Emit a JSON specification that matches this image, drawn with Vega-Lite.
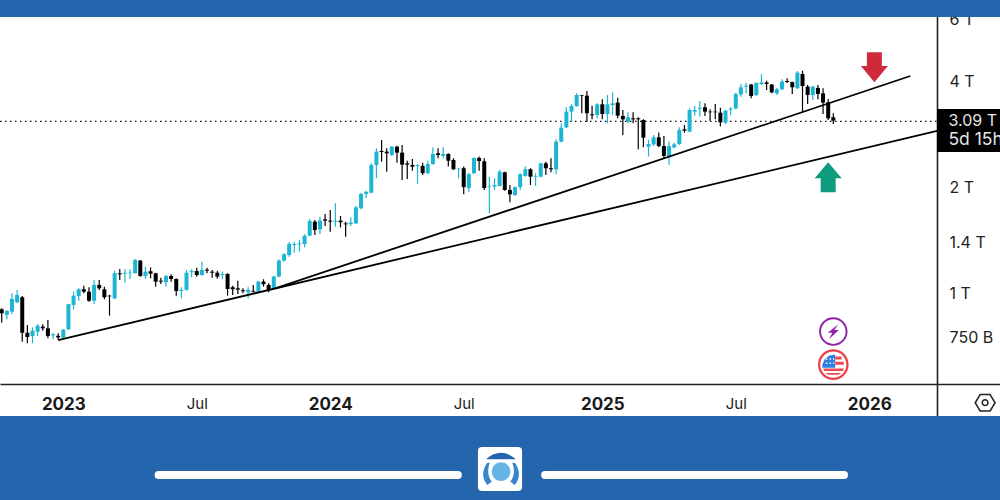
{
  "$schema": "https://vega.github.io/schema/vega-lite/v6.json",
  "width": 1000,
  "height": 500,
  "padding": 0,
  "autosize": {"type": "none"},
  "background": "white",
  "config": {"view": {"stroke": null}, "font": "Inter"},
  "resolve": {"axis": {"x": "independent", "y": "independent"}},
  "datasets": {
    "candles": [
      {"date":"2022-10-10","open":0.905,"high":0.911,"low":0.829,"close":0.882},
      {"date":"2022-10-17","open":0.872,"high":0.901,"low":0.848,"close":0.895},
      {"date":"2022-10-24","open":0.891,"high":1.005,"low":0.878,"close":0.968},
      {"date":"2022-10-31","open":0.948,"high":1.027,"low":0.942,"close":0.994},
      {"date":"2022-11-07","open":0.979,"high":0.987,"low":0.732,"close":0.776},
      {"date":"2022-11-14","open":0.776,"high":0.817,"low":0.725,"close":0.755},
      {"date":"2022-11-21","open":0.760,"high":0.804,"low":0.725,"close":0.786},
      {"date":"2022-11-28","open":0.781,"high":0.821,"low":0.760,"close":0.813},
      {"date":"2022-12-05","open":0.808,"high":0.821,"low":0.786,"close":0.799},
      {"date":"2022-12-12","open":0.799,"high":0.844,"low":0.749,"close":0.760},
      {"date":"2022-12-19","open":0.763,"high":0.776,"low":0.744,"close":0.768},
      {"date":"2022-12-26","open":0.761,"high":0.773,"low":0.740,"close":0.753},
      {"date":"2023-01-02","open":0.753,"high":0.796,"low":0.749,"close":0.792},
      {"date":"2023-01-09","open":0.794,"high":0.937,"low":0.790,"close":0.935},
      {"date":"2023-01-16","open":0.931,"high":1.015,"low":0.905,"close":0.989},
      {"date":"2023-01-23","open":0.987,"high":1.038,"low":0.957,"close":1.031},
      {"date":"2023-01-30","open":1.031,"high":1.056,"low":1.005,"close":1.015},
      {"date":"2023-02-06","open":1.015,"high":1.045,"low":0.951,"close":0.957},
      {"date":"2023-02-13","open":0.957,"high":1.096,"low":0.937,"close":1.061},
      {"date":"2023-02-20","open":1.061,"high":1.096,"low":1.027,"close":1.038},
      {"date":"2023-02-27","open":1.031,"high":1.049,"low":0.966,"close":0.979},
      {"date":"2023-03-06","open":0.989,"high":0.994,"low":0.868,"close":0.985},
      {"date":"2023-03-13","open":0.972,"high":1.164,"low":0.966,"close":1.145},
      {"date":"2023-03-20","open":1.145,"high":1.178,"low":1.096,"close":1.137},
      {"date":"2023-03-27","open":1.142,"high":1.175,"low":1.077,"close":1.149},
      {"date":"2023-04-03","open":1.145,"high":1.175,"low":1.103,"close":1.149},
      {"date":"2023-04-10","open":1.145,"high":1.257,"low":1.145,"close":1.249},
      {"date":"2023-04-17","open":1.244,"high":1.249,"low":1.120,"close":1.125},
      {"date":"2023-04-24","open":1.125,"high":1.195,"low":1.103,"close":1.157},
      {"date":"2023-05-01","open":1.160,"high":1.190,"low":1.108,"close":1.142},
      {"date":"2023-05-08","open":1.145,"high":1.149,"low":1.049,"close":1.084},
      {"date":"2023-05-15","open":1.091,"high":1.112,"low":1.068,"close":1.084},
      {"date":"2023-05-22","open":1.080,"high":1.132,"low":1.049,"close":1.125},
      {"date":"2023-05-29","open":1.125,"high":1.137,"low":1.084,"close":1.103},
      {"date":"2023-06-05","open":1.103,"high":1.108,"low":0.989,"close":1.020},
      {"date":"2023-06-12","open":1.020,"high":1.045,"low":0.972,"close":1.027},
      {"date":"2023-06-19","open":1.027,"high":1.170,"low":1.022,"close":1.149},
      {"date":"2023-06-26","open":1.153,"high":1.175,"low":1.115,"close":1.162},
      {"date":"2023-07-03","open":1.162,"high":1.187,"low":1.120,"close":1.132},
      {"date":"2023-07-10","open":1.132,"high":1.235,"low":1.127,"close":1.170},
      {"date":"2023-07-17","open":1.172,"high":1.187,"low":1.145,"close":1.164},
      {"date":"2023-07-24","open":1.157,"high":1.170,"low":1.112,"close":1.149},
      {"date":"2023-07-31","open":1.149,"high":1.164,"low":1.105,"close":1.120},
      {"date":"2023-08-07","open":1.132,"high":1.157,"low":1.101,"close":1.140},
      {"date":"2023-08-14","open":1.140,"high":1.145,"low":0.989,"close":1.033},
      {"date":"2023-08-21","open":1.045,"high":1.056,"low":0.994,"close":1.031},
      {"date":"2023-08-28","open":1.038,"high":1.091,"low":1.000,"close":1.029},
      {"date":"2023-09-04","open":1.025,"high":1.038,"low":1.005,"close":1.018},
      {"date":"2023-09-11","open":1.011,"high":1.045,"low":0.972,"close":1.027},
      {"date":"2023-09-18","open":1.020,"high":1.061,"low":1.011,"close":1.015},
      {"date":"2023-09-25","open":1.015,"high":1.091,"low":1.011,"close":1.084},
      {"date":"2023-10-02","open":1.084,"high":1.101,"low":1.049,"close":1.066},
      {"date":"2023-10-09","open":1.061,"high":1.072,"low":1.011,"close":1.027},
      {"date":"2023-10-16","open":1.038,"high":1.127,"low":1.031,"close":1.120},
      {"date":"2023-10-23","open":1.120,"high":1.254,"low":1.115,"close":1.244},
      {"date":"2023-10-30","open":1.244,"high":1.304,"low":1.235,"close":1.296},
      {"date":"2023-11-06","open":1.290,"high":1.402,"low":1.276,"close":1.389},
      {"date":"2023-11-13","open":1.377,"high":1.408,"low":1.310,"close":1.386},
      {"date":"2023-11-20","open":1.383,"high":1.423,"low":1.319,"close":1.392},
      {"date":"2023-11-27","open":1.386,"high":1.477,"low":1.356,"close":1.463},
      {"date":"2023-12-04","open":1.463,"high":1.633,"low":1.460,"close":1.612},
      {"date":"2023-12-11","open":1.604,"high":1.622,"low":1.470,"close":1.519},
      {"date":"2023-12-18","open":1.526,"high":1.658,"low":1.480,"close":1.615},
      {"date":"2023-12-25","open":1.629,"high":1.687,"low":1.560,"close":1.615},
      {"date":"2024-01-01","open":1.615,"high":1.731,"low":1.502,"close":1.604},
      {"date":"2024-01-08","open":1.604,"high":1.809,"low":1.552,"close":1.615},
      {"date":"2024-01-15","open":1.615,"high":1.665,"low":1.545,"close":1.598},
      {"date":"2024-01-22","open":1.587,"high":1.604,"low":1.453,"close":1.577},
      {"date":"2024-01-29","open":1.580,"high":1.650,"low":1.560,"close":1.594},
      {"date":"2024-02-05","open":1.587,"high":1.777,"low":1.580,"close":1.762},
      {"date":"2024-02-12","open":1.751,"high":1.939,"low":1.739,"close":1.922},
      {"date":"2024-02-19","open":1.922,"high":1.965,"low":1.869,"close":1.950},
      {"date":"2024-02-26","open":1.939,"high":2.349,"low":1.931,"close":2.324},
      {"date":"2024-03-04","open":2.324,"high":2.591,"low":2.130,"close":2.535},
      {"date":"2024-03-11","open":2.547,"high":2.736,"low":2.375,"close":2.530},
      {"date":"2024-03-18","open":2.535,"high":2.591,"low":2.224,"close":2.508},
      {"date":"2024-03-25","open":2.481,"high":2.630,"low":2.465,"close":2.619},
      {"date":"2024-04-01","open":2.619,"high":2.636,"low":2.359,"close":2.519},
      {"date":"2024-04-08","open":2.519,"high":2.648,"low":2.107,"close":2.329},
      {"date":"2024-04-15","open":2.349,"high":2.390,"low":2.120,"close":2.329},
      {"date":"2024-04-22","open":2.324,"high":2.417,"low":2.239,"close":2.299},
      {"date":"2024-04-29","open":2.309,"high":2.334,"low":2.052,"close":2.324},
      {"date":"2024-05-06","open":2.309,"high":2.359,"low":2.177,"close":2.202},
      {"date":"2024-05-13","open":2.202,"high":2.390,"low":2.187,"close":2.339},
      {"date":"2024-05-20","open":2.339,"high":2.608,"low":2.329,"close":2.497},
      {"date":"2024-05-27","open":2.508,"high":2.591,"low":2.428,"close":2.481},
      {"date":"2024-06-03","open":2.465,"high":2.608,"low":2.428,"close":2.497},
      {"date":"2024-06-10","open":2.497,"high":2.508,"low":2.299,"close":2.390},
      {"date":"2024-06-17","open":2.401,"high":2.428,"low":2.249,"close":2.260},
      {"date":"2024-06-24","open":2.260,"high":2.275,"low":2.130,"close":2.269},
      {"date":"2024-07-01","open":2.275,"high":2.299,"low":1.918,"close":2.011},
      {"date":"2024-07-08","open":1.998,"high":2.209,"low":1.950,"close":2.187},
      {"date":"2024-07-15","open":2.202,"high":2.445,"low":2.187,"close":2.433},
      {"date":"2024-07-22","open":2.433,"high":2.455,"low":2.239,"close":2.385},
      {"date":"2024-07-29","open":2.380,"high":2.428,"low":1.973,"close":1.998},
      {"date":"2024-08-05","open":2.011,"high":2.153,"low":1.695,"close":2.019},
      {"date":"2024-08-12","open":2.019,"high":2.130,"low":1.973,"close":2.039},
      {"date":"2024-08-19","open":2.026,"high":2.249,"low":2.019,"close":2.224},
      {"date":"2024-08-26","open":2.216,"high":2.224,"low":1.965,"close":1.973},
      {"date":"2024-09-02","open":1.973,"high":2.039,"low":1.821,"close":1.918},
      {"date":"2024-09-09","open":1.910,"high":2.019,"low":1.897,"close":2.011},
      {"date":"2024-09-16","open":2.011,"high":2.202,"low":1.973,"close":2.187},
      {"date":"2024-09-23","open":2.162,"high":2.299,"low":2.153,"close":2.260},
      {"date":"2024-09-30","open":2.260,"high":2.275,"low":2.039,"close":2.153},
      {"date":"2024-10-07","open":2.153,"high":2.202,"low":2.026,"close":2.162},
      {"date":"2024-10-14","open":2.153,"high":2.359,"low":2.144,"close":2.349},
      {"date":"2024-10-21","open":2.349,"high":2.375,"low":2.177,"close":2.275},
      {"date":"2024-10-28","open":2.275,"high":2.428,"low":2.216,"close":2.260},
      {"date":"2024-11-04","open":2.260,"high":2.749,"low":2.187,"close":2.706},
      {"date":"2024-11-11","open":2.706,"high":3.051,"low":2.695,"close":2.965},
      {"date":"2024-11-18","open":2.973,"high":3.388,"low":2.954,"close":3.293},
      {"date":"2024-11-25","open":3.293,"high":3.455,"low":3.084,"close":3.416},
      {"date":"2024-12-02","open":3.416,"high":3.712,"low":3.401,"close":3.671},
      {"date":"2024-12-09","open":3.664,"high":3.671,"low":3.258,"close":3.648},
      {"date":"2024-12-16","open":3.655,"high":3.769,"low":3.084,"close":3.258},
      {"date":"2024-12-23","open":3.237,"high":3.423,"low":3.131,"close":3.216},
      {"date":"2024-12-30","open":3.222,"high":3.478,"low":3.153,"close":3.455},
      {"date":"2025-01-06","open":3.455,"high":3.570,"low":3.131,"close":3.243},
      {"date":"2025-01-13","open":3.243,"high":3.671,"low":3.051,"close":3.455},
      {"date":"2025-01-20","open":3.439,"high":3.736,"low":3.222,"close":3.478},
      {"date":"2025-01-27","open":3.493,"high":3.607,"low":3.153,"close":3.207},
      {"date":"2025-02-03","open":3.201,"high":3.329,"low":2.827,"close":3.131},
      {"date":"2025-02-10","open":3.084,"high":3.280,"low":3.051,"close":3.175},
      {"date":"2025-02-17","open":3.153,"high":3.280,"low":3.051,"close":3.131},
      {"date":"2025-02-24","open":3.153,"high":3.175,"low":2.574,"close":3.131},
      {"date":"2025-03-03","open":3.118,"high":3.131,"low":2.608,"close":2.778},
      {"date":"2025-03-10","open":2.619,"high":2.736,"low":2.455,"close":2.665},
      {"date":"2025-03-17","open":2.659,"high":2.827,"low":2.630,"close":2.784},
      {"date":"2025-03-24","open":2.784,"high":2.875,"low":2.608,"close":2.630},
      {"date":"2025-03-31","open":2.630,"high":2.810,"low":2.428,"close":2.465},
      {"date":"2025-04-07","open":2.455,"high":2.706,"low":2.324,"close":2.630},
      {"date":"2025-04-14","open":2.608,"high":2.689,"low":2.591,"close":2.659},
      {"date":"2025-04-21","open":2.665,"high":2.973,"low":2.648,"close":2.921},
      {"date":"2025-04-28","open":2.934,"high":3.018,"low":2.869,"close":2.908},
      {"date":"2025-05-05","open":2.889,"high":3.366,"low":2.880,"close":3.329},
      {"date":"2025-05-12","open":3.293,"high":3.416,"low":3.207,"close":3.329},
      {"date":"2025-05-19","open":3.357,"high":3.530,"low":3.186,"close":3.379},
      {"date":"2025-05-26","open":3.388,"high":3.478,"low":3.201,"close":3.293},
      {"date":"2025-06-02","open":3.293,"high":3.344,"low":3.105,"close":3.280},
      {"date":"2025-06-09","open":3.293,"high":3.462,"low":3.131,"close":3.280},
      {"date":"2025-06-16","open":3.271,"high":3.379,"low":2.986,"close":3.071},
      {"date":"2025-06-23","open":3.064,"high":3.329,"low":3.038,"close":3.314},
      {"date":"2025-06-30","open":3.335,"high":3.388,"low":3.222,"close":3.357},
      {"date":"2025-07-07","open":3.366,"high":3.725,"low":3.344,"close":3.696},
      {"date":"2025-07-14","open":3.688,"high":3.944,"low":3.632,"close":3.861},
      {"date":"2025-07-21","open":3.878,"high":3.971,"low":3.712,"close":3.903},
      {"date":"2025-07-28","open":3.932,"high":3.944,"low":3.593,"close":3.648},
      {"date":"2025-08-04","open":3.671,"high":3.985,"low":3.648,"close":3.971},
      {"date":"2025-08-11","open":3.944,"high":4.203,"low":3.919,"close":3.985},
      {"date":"2025-08-18","open":3.985,"high":4.030,"low":3.794,"close":3.944},
      {"date":"2025-08-25","open":3.932,"high":3.944,"low":3.712,"close":3.736},
      {"date":"2025-09-01","open":3.712,"high":3.851,"low":3.671,"close":3.810},
      {"date":"2025-09-08","open":3.810,"high":4.068,"low":3.794,"close":4.007},
      {"date":"2025-09-15","open":4.024,"high":4.095,"low":3.971,"close":3.998},
      {"date":"2025-09-22","open":3.994,"high":4.007,"low":3.696,"close":3.861},
      {"date":"2025-09-29","open":3.838,"high":4.295,"low":3.820,"close":4.250},
      {"date":"2025-10-06","open":4.212,"high":4.303,"low":3.293,"close":3.893},
      {"date":"2025-10-13","open":3.878,"high":3.919,"low":3.462,"close":3.671},
      {"date":"2025-10-20","open":3.671,"high":3.893,"low":3.554,"close":3.878},
      {"date":"2025-10-27","open":3.846,"high":3.919,"low":3.570,"close":3.696},
      {"date":"2025-11-03","open":3.712,"high":3.836,"low":3.243,"close":3.493},
      {"date":"2025-11-10","open":3.501,"high":3.578,"low":3.118,"close":3.153},
      {"date":"2025-11-17","open":3.175,"high":3.258,"low":3.038,"close":3.105}
    ],
    "trendlines": [
      {"line":"lower","date":"2022-12-26","price":0.740},
      {"line":"lower","date":"2026-04-07T12:00:00Z","price":2.902},
      {"line":"upper","date":"2023-10-18","price":1.038},
      {"line":"upper","date":"2026-03-02","price":4.157}
    ],
    "lastprice": [
      {"date":"2022-10-07T16:20:00Z","date2":"2026-04-07T12:00:00Z","price":3.09}
    ],
    "bands": [
      {"date":"2022-10-07T16:20:00Z","date2":"2026-07-02T07:00:00Z","price":6.113,"price2":6.832},
      {"date":"2022-10-07T16:20:00Z","date2":"2026-07-02T07:00:00Z","price":0.2601,"price2":0.4505}
    ],
    "pricetag": [
      {"date":"2026-04-07T12:00:00Z","date2":"2026-07-02T07:00:00Z","price":2.530,"price2":3.351}
    ],
    "tagtext": [
      {"date":"2026-04-23","price":3.09,"label":"3.09 T"},
      {"date":"2026-04-23","price":2.736,"label":"5d 15h"}
    ],
    "pills": [
      {"date":"2023-05-12","date2":"2024-06-23","price":0.3064},
      {"date":"2024-10-20","date2":"2025-12-01T14:00:00Z","price":0.3064}
    ],
    "glyphs": [
      {"date":"2026-01-12","price":4.400,"part":"arrow_down"},
      {"date":"2025-11-10","price":2.144,"part":"arrow_up"},
      {"date":"2025-11-17","price":0.782,"part":"bolt_ring"},
      {"date":"2025-11-17","price":0.782,"part":"bolt"},
      {"date":"2025-11-17","price":0.630,"part":"flag_canton"},
      {"date":"2025-11-17","price":0.630,"part":"flag_dots"},
      {"date":"2025-11-17","price":0.630,"part":"flag_stripes"},
      {"date":"2025-11-17","price":0.630,"part":"flag_ring"},
      {"date":"2026-06-12","price":0.4914,"part":"hexagon"},
      {"date":"2024-08-19T12:00:00Z","price":0.3186,"part":"logo_tile"},
      {"date":"2024-08-19T12:00:00Z","price":0.3186,"part":"logo_cap"},
      {"date":"2024-08-19T12:00:00Z","price":0.3186,"part":"logo_sides"},
      {"date":"2024-08-19T12:00:00Z","price":0.3186,"part":"logo_dot"}
    ]
  },
  "data": {"name": "candles"},
  "encoding": {
    "x": {
      "field": "date",
      "type": "temporal",
      "scale": {
        "type": "utc",
        "nice": false,
        "padding": 0,
        "domain": [
          {"year":2022,"month":10,"date":7,"hours":16,"minutes":20,"utc":true},
          {"year":2026,"month":7,"date":2,"hours":7,"utc":true}
        ]
      },
      "axis": null
    },
    "y": {
      "field": "price",
      "type": "quantitative",
      "scale": {"type": "log", "nice": false, "zero": false, "domain": [0.2601, 6.832]},
      "axis": null
    }
  },
  "layer": [
    {
      "data": {"name": "lastprice"},
      "mark": {"type": "rule", "color": "#111111", "strokeWidth": 1.2, "strokeDash": [1.5, 3.5]},
      "encoding": {
        "x": {
          "field": "date",
          "type": "temporal",
          "title": null,
          "scale": {
            "type": "utc",
            "nice": false,
            "padding": 0,
            "domain": [
              {"year":2022,"month":10,"date":7,"hours":16,"minutes":20,"utc":true},
              {"year":2026,"month":7,"date":2,"hours":7,"utc":true}
            ]
          },
          "axis": {
            "orient": "bottom",
            "offset": -116,
            "title": null,
            "values": [
              {"year":2023,"month":1,"date":2,"utc":true},
              {"year":2023,"month":7,"date":3,"utc":true},
              {"year":2024,"month":1,"date":1,"utc":true},
              {"year":2024,"month":7,"date":1,"utc":true},
              {"year":2025,"month":1,"date":6,"utc":true},
              {"year":2025,"month":7,"date":7,"utc":true},
              {"year":2026,"month":1,"date":5,"utc":true}
            ],
            "labelExpr": "utcmonth(datum.value) == 0 ? utcFormat(datum.value, '%Y') : 'Jul'",
            "labelFontWeight": {"condition": {"test": "utcmonth(datum.value) == 0", "value": "bold"}, "value": "normal"},
            "labelFontSize": {"condition": {"test": "utcmonth(datum.value) == 0", "value": 17}, "value": 15},
            "labelColor": "#1a1a1a",
            "labelPadding": 12,
            "labelOverlap": false,
            "labelFlush": false,
            "labelBound": false,
            "ticks": false,
            "grid": false,
            "domainColor": "#222222",
            "domainWidth": 1.6
          }
        },
        "x2": {"field": "date2"},
        "y": {
          "field": "price",
          "type": "quantitative",
          "title": null,
          "scale": {"type": "log", "nice": false, "zero": false, "domain": [0.2601, 6.832]},
          "axis": {
            "orient": "right",
            "offset": -63,
            "title": null,
            "values": [0.75, 1, 1.4, 2, 4, 6],
            "labelExpr": "datum.value < 1 ? '750 B' : format(datum.value, '~g') + ' T'",
            "labelAlign": "left",
            "labelPadding": 12,
            "labelFontSize": 16,
            "labelColor": "#222222",
            "labelOverlap": false,
            "labelFlush": false,
            "labelBound": false,
            "ticks": false,
            "grid": false,
            "domainColor": "#222222",
            "domainWidth": 1.6
          }
        }
      }
    },
    {
      "mark": {"type": "rule", "strokeWidth": 1.2},
      "encoding": {
        "y": {
          "field": "low",
          "type": "quantitative",
          "scale": {"type": "log", "nice": false, "zero": false, "domain": [0.2601, 6.832]},
          "axis": null
        },
        "y2": {"field": "high"},
        "color": {"condition": {"test": "datum.close >= datum.open", "value": "#1cb5d4"}, "value": "#000000"}
      }
    },
    {
      "mark": {"type": "bar", "size": 4},
      "encoding": {
        "y": {
          "field": "open",
          "type": "quantitative",
          "scale": {"type": "log", "nice": false, "zero": false, "domain": [0.2601, 6.832]},
          "axis": null
        },
        "y2": {"field": "close"},
        "color": {"condition": {"test": "datum.close >= datum.open", "value": "#1cb5d4"}, "value": "#000000"}
      }
    },
    {
      "data": {"name": "trendlines"},
      "mark": {"type": "line", "color": "#000000", "strokeWidth": 1.8},
      "encoding": {"detail": {"field": "line", "type": "nominal"}}
    },
    {
      "data": {"name": "bands"},
      "mark": {"type": "rect", "color": "#2565ae"},
      "encoding": {"x2": {"field": "date2"}, "y2": {"field": "price2"}}
    },
    {
      "data": {"name": "pricetag"},
      "mark": {"type": "rect", "color": "#000000"},
      "encoding": {"x2": {"field": "date2"}, "y2": {"field": "price2"}}
    },
    {
      "data": {"name": "tagtext"},
      "mark": {"type": "text", "align": "left", "baseline": "middle", "color": "#e4e4e4"},
      "encoding": {
        "text": {"field": "label", "type": "nominal"},
        "size": {"condition": {"test": "datum.label == '5d 15h'", "value": 17.5}, "value": 16}
      }
    },
    {
      "data": {"name": "pills"},
      "mark": {"type": "rule", "color": "white", "strokeWidth": 8, "strokeCap": "round"},
      "encoding": {"x2": {"field": "date2"}}
    },
    {
      "data": {"name": "glyphs"},
      "mark": {"type": "point", "filled": true, "size": 900, "opacity": 1, "strokeWidth": 0},
      "encoding": {
        "shape": {
          "field": "part",
          "type": "nominal",
          "legend": null,
          "scale": {
            "domain": ["arrow_down","arrow_up","bolt_ring","bolt","flag_canton","flag_dots","flag_stripes","flag_ring","hexagon","logo_tile","logo_cap","logo_sides","logo_dot"],
            "range": [
              "M-0.5,-1 L0.5,-1 L0.5,-0.09 L0.9,-0.09 L0,1 L-0.9,-0.09 L-0.5,-0.09 Z",
              "M0,-1 L0.9,0.07 L0.5,0.07 L0.5,1 L-0.5,1 L-0.5,0.07 L-0.9,0.07 Z",
              "M-0.95,0 A0.95,0.95 0 1 1 0.95,0 A0.95,0.95 0 1 1 -0.95,0 Z M-0.82,0 A0.82,0.82 0 1 0 0.82,0 A0.82,0.82 0 1 0 -0.82,0 Z",
              "M0.33,-0.49 L-0.37,0.07 L-0.07,0.07 L-0.27,0.49 L0.37,-0.1 L0.07,-0.1 Z",
              "M0.13,-0.67 L-0.3,-0.6 L-0.6,-0.33 L-0.73,0 L-0.73,0.2 L0.13,0.2 Z",
              "M-0.5,-0.42 L-0.4,-0.42 L-0.4,-0.32 L-0.5,-0.32 Z M-0.25,-0.42 L-0.15,-0.42 L-0.15,-0.32 L-0.25,-0.32 Z M-0.02,-0.42 L0.06,-0.42 L0.06,-0.32 L-0.02,-0.32 Z M-0.5,-0.14 L-0.4,-0.14 L-0.4,-0.04 L-0.5,-0.04 Z M-0.25,-0.14 L-0.15,-0.14 L-0.15,-0.04 L-0.25,-0.04 Z M-0.02,-0.14 L0.06,-0.14 L0.06,-0.04 L-0.02,-0.04 Z",
              "M0.13,-0.55 L0.55,-0.55 L0.55,-0.35 L0.13,-0.35 Z M0.13,-0.2 L0.7,-0.2 L0.7,0 L0.13,0 Z M-0.68,0.25 L0.7,0.25 L0.67,0.42 L-0.6,0.42 Z M-0.53,0.55 L0.53,0.55 L0.35,0.68 L-0.35,0.68 Z",
              "M-1.02,0 A1.02,1.02 0 1 1 1.02,0 A1.02,1.02 0 1 1 -1.02,0 Z M-0.87,0 A0.87,0.87 0 1 0 0.87,0 A0.87,0.87 0 1 0 -0.87,0 Z",
              "M-0.72,0 L-0.36,-0.6 L0.36,-0.6 L0.72,0 L0.36,0.6 L-0.36,0.6 Z M-0.6,0 L-0.3,0.5 L0.3,0.5 L0.6,0 L0.3,-0.5 L-0.3,-0.5 Z M-0.24,0 A0.24,0.24 0 1 1 0.24,0 A0.24,0.24 0 1 1 -0.24,0 Z M-0.14,0 A0.14,0.14 0 1 0 0.14,0 A0.14,0.14 0 1 0 -0.14,0 Z",
              "M-1.2,-1.47 L1.2,-1.47 Q1.47,-1.47 1.47,-1.2 L1.47,1.2 Q1.47,1.47 1.2,1.47 L-1.2,1.47 Q-1.47,1.47 -1.47,1.2 L-1.47,-1.2 Q-1.47,-1.47 -1.2,-1.47 Z",
              "M-0.93,-0.65 Q0.07,-1.5 1.07,-0.65 Z",
              "M-0.85,-0.42 Q-1.4,0.35 -0.85,1.07 L-0.55,0.85 Q-0.95,0.3 -0.68,-0.42 Z M0.99,-0.42 Q1.54,0.35 0.99,1.07 L0.69,0.85 Q1.09,0.3 0.82,-0.42 Z",
              "M-0.55,0.18 A0.62,0.62 0 1 0 0.69,0.18 A0.62,0.62 0 1 0 -0.55,0.18 Z"
            ]
          }
        },
        "color": {
          "field": "part",
          "type": "nominal",
          "legend": null,
          "scale": {
            "domain": ["arrow_down","arrow_up","bolt_ring","bolt","flag_canton","flag_dots","flag_stripes","flag_ring","hexagon","logo_tile","logo_cap","logo_sides","logo_dot"],
            "range": ["#cf2a3c","#0e9b7e","#8e24aa","#8e24aa","#2f7de1","#ffffff","#f04a50","#ee3e48","#222222","#ffffff","#2565ae","#3a86cc","#64b5e6"]
          }
        }
      }
    }
  ]
}
